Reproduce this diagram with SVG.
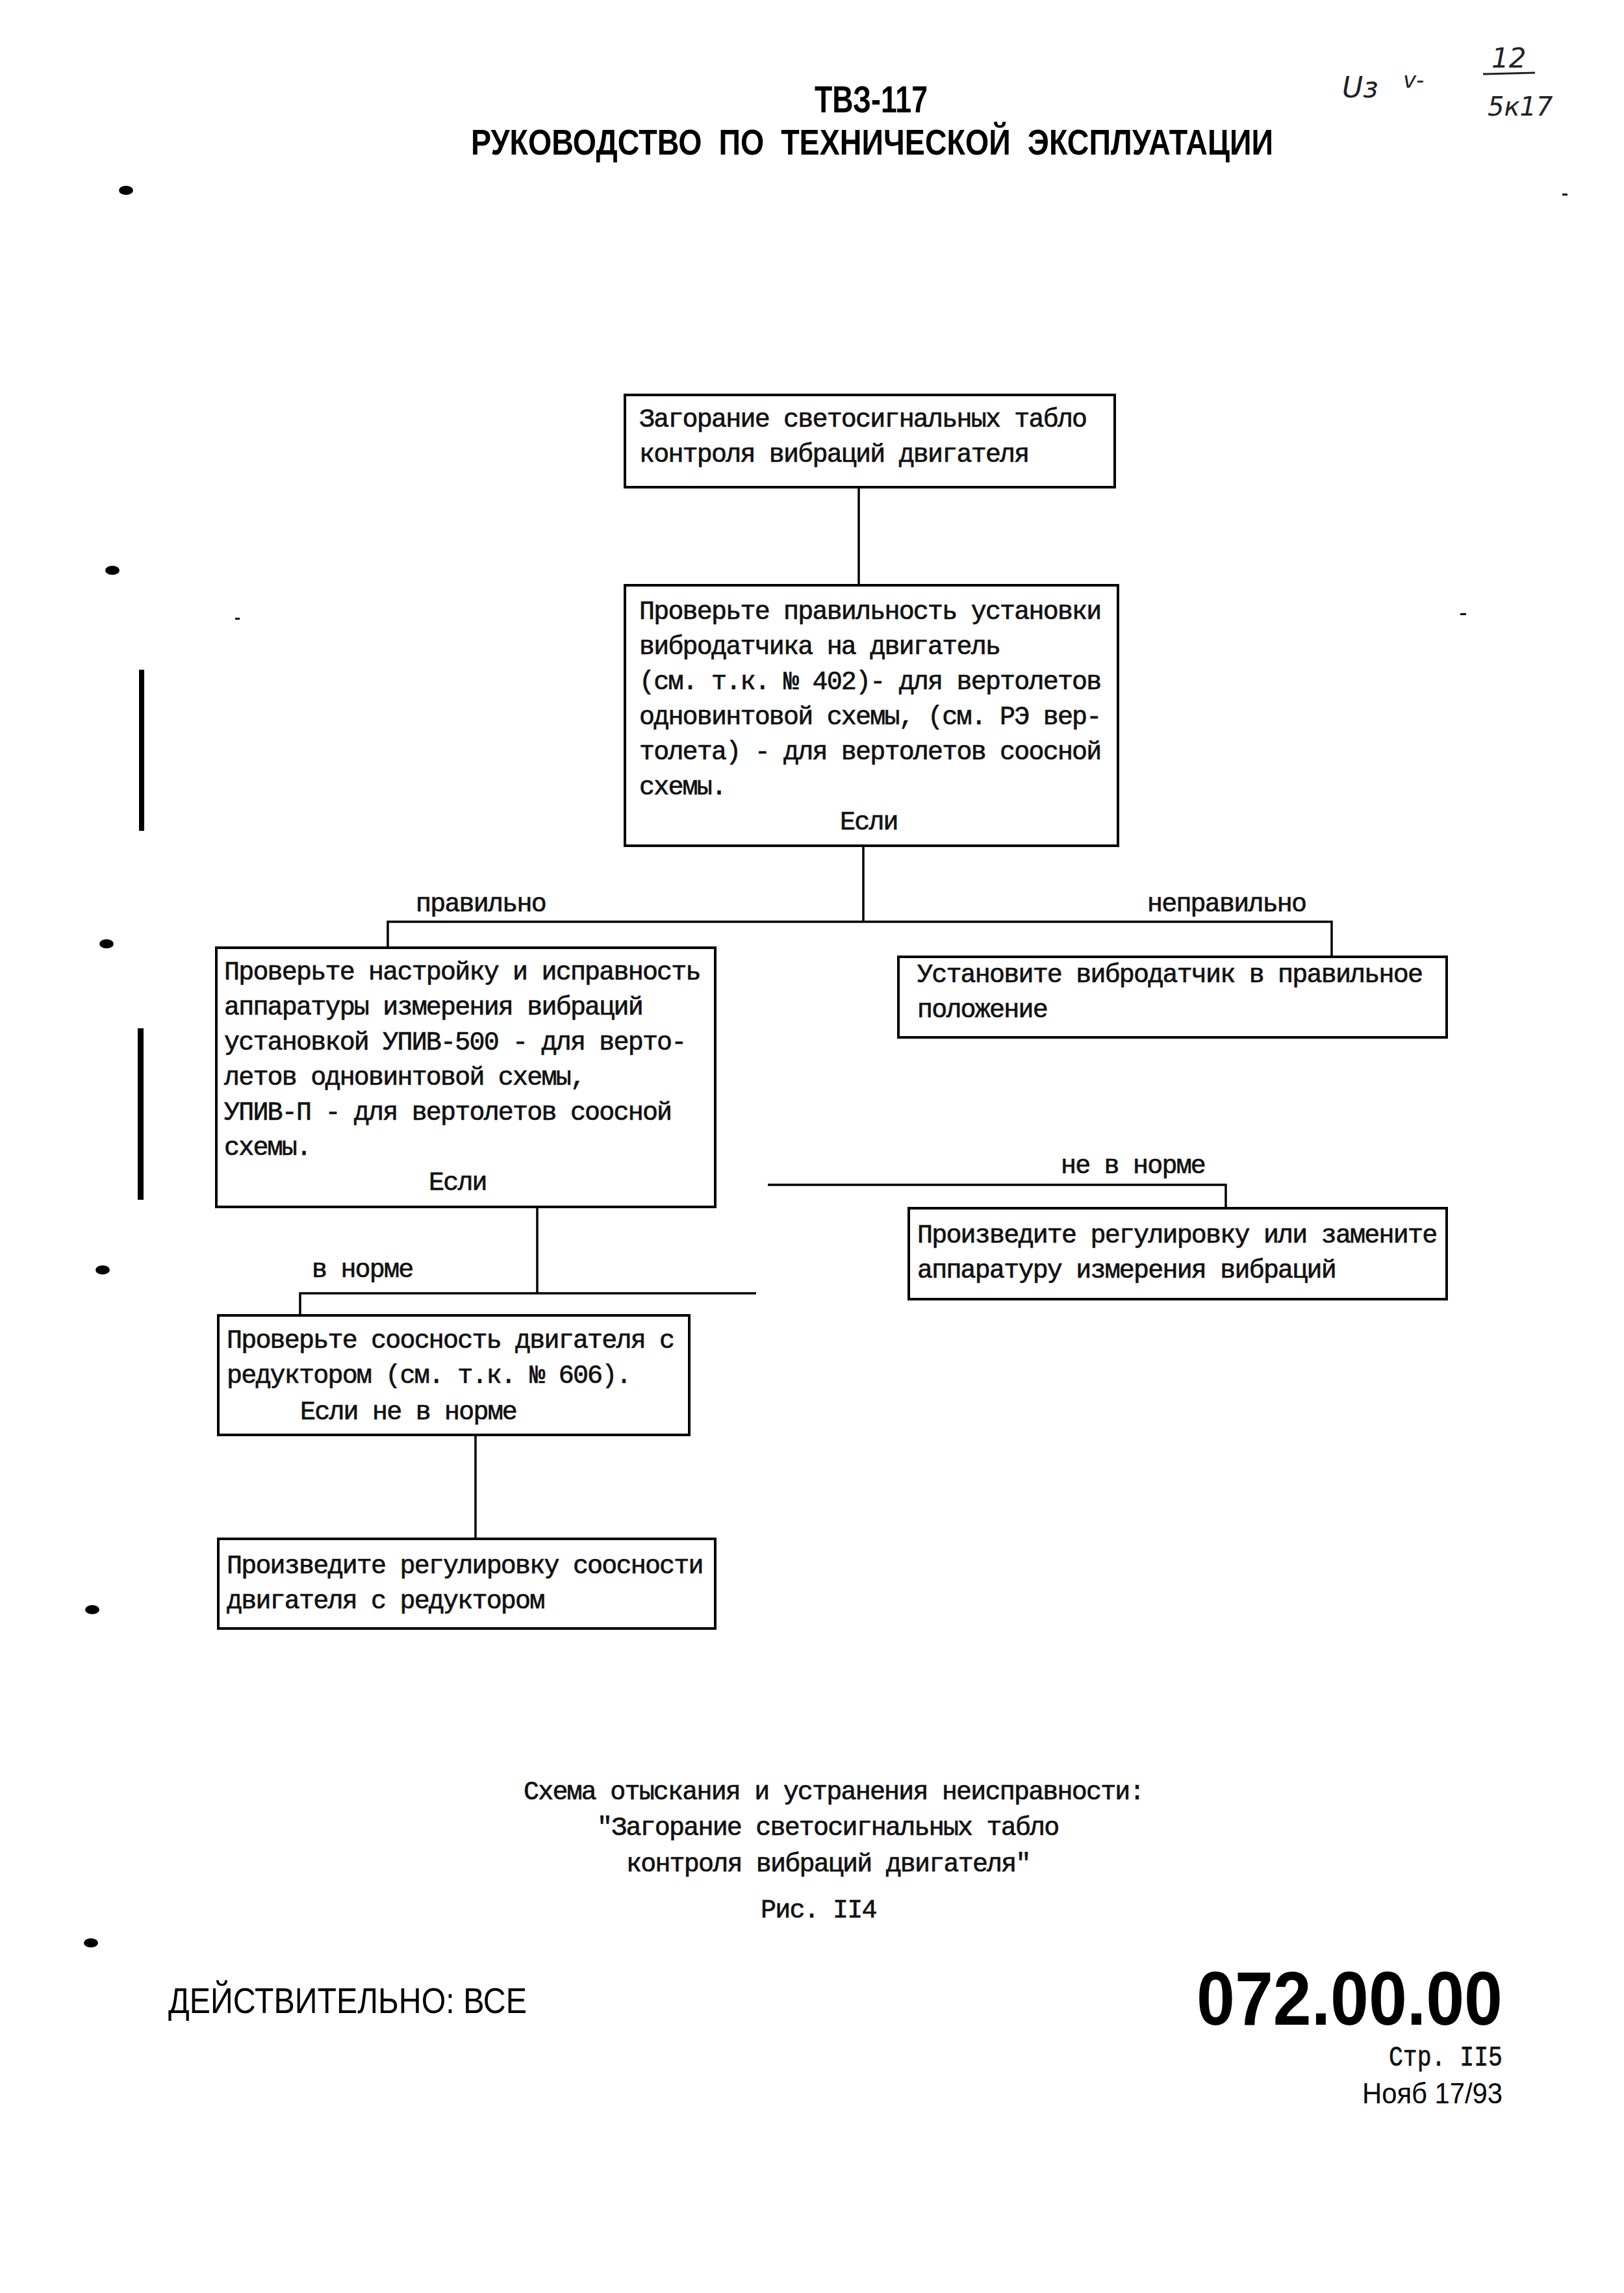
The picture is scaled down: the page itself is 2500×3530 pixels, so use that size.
<svg xmlns="http://www.w3.org/2000/svg" width="2500" height="3530" viewBox="0 0 2500 3530">
<style>
.bg{fill:#fff}
.box{fill:none;stroke:#000;stroke-width:4}
.conn{fill:none;stroke:#000;stroke-width:3.5}
.t{font-family:"Liberation Mono","DejaVu Sans Mono",monospace;font-size:40px;letter-spacing:-1.8px;fill:#111;stroke:#111;stroke-width:0.7}
.hd{font-family:"Liberation Sans","DejaVu Sans",sans-serif;font-weight:bold;fill:#000}
.ft{font-family:"Liberation Sans","DejaVu Sans",sans-serif;fill:#000}
.hw{font-family:"DejaVu Sans","Liberation Sans",sans-serif;font-style:italic;fill:#222}
.mark{fill:#000}
</style>
<rect class="bg" x="0" y="0" width="2500" height="3530"/>

<g id="header">
<text class="hd" x="1341" y="173" font-size="58" text-anchor="middle" textLength="174" lengthAdjust="spacingAndGlyphs">ТВЗ-117</text>
<text class="hd" x="725" y="238" font-size="55" textLength="1235" lengthAdjust="spacingAndGlyphs">РУКОВОДСТВО&#160; ПО&#160; ТЕХНИЧЕСКОЙ&#160; ЭКСПЛУАТАЦИИ</text>
</g>

<g id="handwriting">
<text class="hw" x="2066" y="150" font-size="44">Uз</text>
<text class="hw" x="2160" y="135" font-size="34">v-</text>
<text class="hw" x="2296" y="104" font-size="42">12</text>
<line x1="2283" y1="114" x2="2363" y2="112" stroke="#222" stroke-width="3"/>
<text class="hw" x="2290" y="178" font-size="40">5к17</text>
</g>

<g id="scan-marks">
<ellipse class="mark" cx="194" cy="293" rx="11" ry="7"/>
<ellipse class="mark" cx="173" cy="878" rx="11" ry="7"/>
<ellipse class="mark" cx="164" cy="1453" rx="11" ry="7"/>
<ellipse class="mark" cx="158" cy="1955" rx="11" ry="7"/>
<ellipse class="mark" cx="142" cy="2478" rx="11" ry="7"/>
<ellipse class="mark" cx="140" cy="2991" rx="11" ry="7"/>
<rect class="mark" x="214" y="1031" width="8" height="248"/>
<rect class="mark" x="212" y="1583" width="9" height="264"/>
<rect class="mark" x="362" y="951" width="7" height="3"/>
<rect class="mark" x="2248" y="944" width="9" height="3"/>
<rect class="mark" x="2405" y="298" width="8" height="3"/>
</g>

<g id="connectors">
<line class="conn" x1="1322" y1="750" x2="1322" y2="901"/>
<line class="conn" x1="1329" y1="1302" x2="1329" y2="1419"/>
<polyline class="conn" points="597,1459 597,1419 2050,1419 2050,1473"/>
<text class="t" x="640" y="1403">правильно</text>
<text class="t" x="1766" y="1403">неправильно</text>
<polyline class="conn" points="1182,1824 1887,1824 1887,1860"/>
<text class="t" x="1633" y="1806">не в норме</text>
<line class="conn" x1="827" y1="1858" x2="827" y2="1991"/>
<polyline class="conn" points="462,2025 462,1991 1164,1991"/>
<text class="t" x="480" y="1966">в норме</text>
<line class="conn" x1="732" y1="2209" x2="732" y2="2369"/>
</g>

<g id="node1">
<rect class="box" x="962" y="608" width="754" height="142"/>
<text class="t" x="984" y="657">Загорание светосигнальных табло</text>
<text class="t" x="984" y="711">контроля вибраций двигателя</text>
</g>

<g id="node2">
<rect class="box" x="962" y="901" width="759" height="401"/>
<text class="t" x="984" y="953">Проверьте правильность установки</text>
<text class="t" x="984" y="1007">вибродатчика на двигатель</text>
<text class="t" x="984" y="1061">(см. т.к. № 402)- для вертолетов</text>
<text class="t" x="984" y="1115">одновинтовой схемы, (см. РЭ вер-</text>
<text class="t" x="984" y="1169">толета) - для вертолетов соосной</text>
<text class="t" x="984" y="1223">схемы.</text>
<text class="t" x="1293" y="1277">Если</text>
</g>

<g id="node3">
<rect class="box" x="333" y="1459" width="768" height="399"/>
<text class="t" x="345" y="1508">Проверьте настройку и исправность</text>
<text class="t" x="345" y="1562">аппаратуры измерения вибраций</text>
<text class="t" x="345" y="1616">установкой УПИВ-500 - для верто-</text>
<text class="t" x="345" y="1670">летов одновинтовой схемы,</text>
<text class="t" x="345" y="1724">УПИВ-П - для вертолетов соосной</text>
<text class="t" x="345" y="1778">схемы.</text>
<text class="t" x="660" y="1832">Если</text>
</g>

<g id="node4">
<rect class="box" x="1383" y="1473" width="844" height="124"/>
<text class="t" x="1412" y="1512">Установите вибродатчик в правильное</text>
<text class="t" x="1412" y="1566">положение</text>
</g>

<g id="node5">
<rect class="box" x="1399" y="1860" width="828" height="140"/>
<text class="t" x="1412" y="1913">Произведите регулировку или замените</text>
<text class="t" x="1412" y="1967">аппаратуру измерения вибраций</text>
</g>

<g id="node6">
<rect class="box" x="336" y="2025" width="725" height="184"/>
<text class="t" x="349" y="2075">Проверьте соосность двигателя с</text>
<text class="t" x="349" y="2129">редуктором (см. т.к. № 606).</text>
<text class="t" x="462" y="2185">Если не в норме</text>
</g>

<g id="node7">
<rect class="box" x="336" y="2369" width="765" height="138"/>
<text class="t" x="349" y="2422">Произведите регулировку соосности</text>
<text class="t" x="349" y="2476">двигателя с редуктором</text>
</g>

<g id="caption">
<text class="t" x="806" y="2770">Схема отыскания и устранения неисправности:</text>
<text class="t" x="919" y="2825">"Загорание светосигнальных табло</text>
<text class="t" x="964" y="2881">контроля вибраций двигателя"</text>
<text class="t" x="1171" y="2952">Рис. II4</text>
</g>

<g id="footer">
<text class="ft" x="259" y="3099" font-size="56" textLength="552" lengthAdjust="spacingAndGlyphs">ДЕЙСТВИТЕЛЬНО: ВСЕ</text>
<text class="hd" x="1842" y="3117" font-size="116" textLength="471" lengthAdjust="spacingAndGlyphs">072.00.00</text>
<text class="t" x="2138" y="3180" style="font-size:45px;letter-spacing:0" textLength="175" lengthAdjust="spacingAndGlyphs">Стр. II5</text>
<text class="ft" x="2097" y="3238" font-size="44" textLength="216" lengthAdjust="spacingAndGlyphs">Нояб 17/93</text>
</g>
</svg>
